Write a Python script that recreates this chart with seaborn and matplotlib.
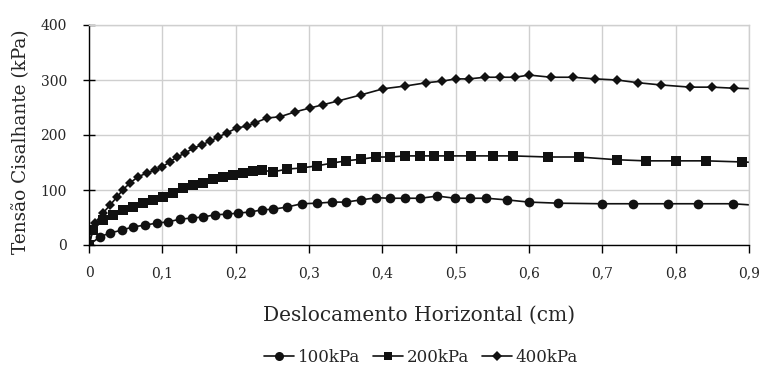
import matplotlib
matplotlib.use("Agg")
import matplotlib.pyplot as plt
import seaborn as sns
import pandas as pd
from matplotlib.ticker import FuncFormatter
from matplotlib.lines import Line2D

x100 = [0, 0.015, 0.029, 0.045, 0.06, 0.076, 0.093, 0.108, 0.124, 0.14, 0.156, 0.172, 0.188, 0.203,
        0.22, 0.236, 0.251, 0.27, 0.29, 0.311, 0.332, 0.35, 0.371, 0.392, 0.41, 0.431, 0.452, 0.475,
        0.499, 0.52, 0.542, 0.57, 0.6, 0.64, 0.70, 0.742, 0.79, 0.83, 0.878, 0.912]
y100 = [0, 15, 22, 27, 33, 36, 40, 42, 47, 49, 51, 55, 56, 58,
        60, 64, 65, 69, 75, 76, 78, 78, 82, 86, 85, 85, 85, 89,
        85, 85, 85, 82, 78, 76, 75, 75, 75, 75, 75, 72]

x200 = [0, 0.005, 0.019, 0.033, 0.046, 0.06, 0.074, 0.087, 0.101, 0.115, 0.128, 0.142, 0.156, 0.169,
        0.183, 0.196, 0.21, 0.224, 0.236, 0.251, 0.27, 0.29, 0.311, 0.332, 0.35, 0.371, 0.392, 0.41,
        0.431, 0.452, 0.47, 0.491, 0.521, 0.551, 0.578, 0.626, 0.668, 0.72, 0.759, 0.8, 0.842, 0.89, 0.912]
y200 = [0, 27, 45, 55, 64, 69, 76, 82, 87, 95, 104, 109, 113, 120,
        124, 127, 131, 135, 136, 133, 138, 140, 144, 149, 153, 156, 160, 160,
        162, 162, 162, 162, 162, 162, 162, 160, 160, 155, 153, 153, 153, 151, 150]

x400 = [0, 0.008, 0.019, 0.029, 0.038, 0.046, 0.056, 0.067, 0.079, 0.09, 0.1, 0.11, 0.12, 0.131,
        0.142, 0.154, 0.165, 0.176, 0.188, 0.202, 0.215, 0.226, 0.243, 0.26, 0.281, 0.301, 0.319,
        0.34, 0.371, 0.401, 0.431, 0.46, 0.482, 0.5, 0.518, 0.54, 0.561, 0.581, 0.6, 0.63, 0.66,
        0.69, 0.72, 0.749, 0.78, 0.82, 0.85, 0.88, 0.912]
y400 = [0, 40, 58, 73, 87, 100, 113, 124, 131, 136, 142, 151, 160, 167,
        176, 182, 189, 196, 204, 213, 216, 222, 231, 233, 242, 249, 255,
        262, 273, 284, 289, 295, 298, 302, 302, 305, 305, 305, 309, 305, 305,
        302, 300, 295, 291, 287, 287, 285, 284]

series_names = ["100kPa", "200kPa", "400kPa"]
x_ticks = [0, 0.1, 0.2, 0.3, 0.4, 0.5, 0.6, 0.7, 0.8, 0.9]
y_ticks = [0, 100, 200, 300, 400]

df = pd.concat([
    pd.DataFrame({"x": x100, "y": y100, "s": series_names[0]}),
    pd.DataFrame({"x": x200, "y": y200, "s": series_names[1]}),
    pd.DataFrame({"x": x400, "y": y400, "s": series_names[2]}),
], ignore_index=True)

sns.set_theme(style="white")
serif = ["DejaVu Serif"]
plt.rcParams["font.family"] = serif

fig = plt.figure(figsize=(7.62, 3.73), dpi=100)
ax = fig.add_axes([89 / 762, 1 - 245 / 373, (749 - 89) / 762, (245 - 25) / 373])

markers = {"100kPa": "o", "200kPa": "s", "400kPa": "D"}
sizes = {"100kPa": 7.0, "200kPa": 6.5, "400kPa": 5.2}
for name in series_names:
    sns.lineplot(data=df[df["s"] == name], x="x", y="y", ax=ax, color="#111111",
                 marker=markers[name], markersize=sizes[name], markeredgewidth=0,
                 linewidth=1.2, sort=False, legend=False, estimator=None)

ax.set_xlim(0, 0.9)
ax.set_ylim(0, 400)
ax.set_xticks(x_ticks)
ax.set_yticks(y_ticks)
fmt = FuncFormatter(lambda v, p: ("%g" % round(v, 2)).replace(".", ","))
ax.xaxis.set_major_formatter(fmt)
ax.grid(True, color="#cfcfcf", linewidth=1.0)
ax.set_axisbelow(True)
for side in ["top", "right"]:
    ax.spines[side].set_color("#cfcfcf")
    ax.spines[side].set_linewidth(1.0)
for side in ["left", "bottom"]:
    ax.spines[side].set_color("black")
    ax.spines[side].set_linewidth(1.0)
ax.tick_params(axis="x", direction="out", length=6, width=1, color="black",
               labelsize=10, pad=9, bottom=True)
ax.tick_params(axis="y", direction="inout", length=8, width=1, color="black",
               labelsize=10, pad=12, left=True)
ax.set_xlabel("Deslocamento Horizontal (cm)", fontsize=14.5, labelpad=19)
ax.set_ylabel("Tensão Cisalhante (kPa)", fontsize=13.3)
ax.yaxis.set_label_coords(-0.09, 0.468)

handles = [Line2D([], [], color="#111111", marker=markers[n], markersize=sizes[n] - 0.5,
                  markeredgewidth=0, linewidth=1.2) for n in series_names]
fig.legend(handles, series_names, loc="center", bbox_to_anchor=(421 / 762, 1 - 357 / 373),
           ncol=3, frameon=False, fontsize=12, handlelength=1.8, handletextpad=0.2,
           columnspacing=0.8)

fig.savefig("out.png", dpi=100)
